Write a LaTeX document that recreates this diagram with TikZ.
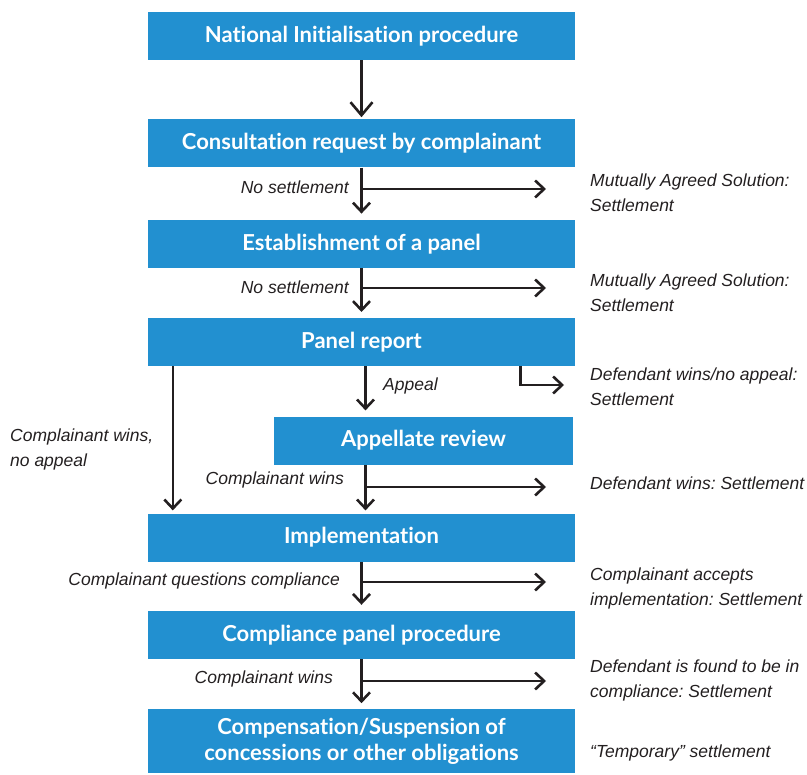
\documentclass[tikz,border=0pt]{standalone}
\usepackage{fontspec}
\setmainfont{Liberation Sans}
\newfontfamily\boxfont[Ligatures=NoCommon]{Lato}
\usetikzlibrary{positioning,arrows.meta}
\definecolor{flowblue}{HTML}{2290D0}
\definecolor{ink}{HTML}{231F20}
\frenchspacing

\begin{document}
\begin{tikzpicture}[
  x=1pt, y=-1pt,
  font=\fontsize{17.5}{25}\selectfont\itshape,
  box/.style={fill=flowblue, text=white, font=\boxfont\bfseries\fontsize{22}{26}\selectfont, align=center, minimum width=427pt, minimum height=48pt, inner sep=0pt},
  lbl/.style={text=ink, align=left, inner sep=0pt},
  arr/.style={-{Straight Barb[length=9pt,width=17pt]}, line width=2.6pt, draw=ink},
  bigarr/.style={arr, -{Straight Barb[length=13pt,width=22pt]}},
]
\useasboundingbox (0,0) rectangle (807,775);

% main column
\node[box] (init) at (361.5,36) {National Initialisation procedure};
\node[box, below=59pt of init] (cons) {Consultation request by complainant};
\node[box, below=52pt of cons] (est) {Establishment of a panel};
\node[box, below=50pt of est] (rep) {Panel report};
\node[box, below=50pt of rep, xshift=62pt, minimum width=299pt] (app) {Appellate review};
\node[box, below=147pt of rep] (impl) {Implementation};
\node[box, below=49pt of impl] (comp) {Compliance panel procedure};
\node[box, below=50pt of comp, minimum height=64pt] (susp) {Compensation/Suspension of\\concessions or other obligations};

% branch ends
\coordinate (e1) at (546,189);
\coordinate (e2) at (546,288);
\coordinate (e3) at (564,385);
\coordinate (e4) at (546,487);
\coordinate (e5) at (546,582);
\coordinate (e6) at (546,681);

\draw[bigarr, shorten >=2pt] (init) -- (cons);
\draw[arr, shorten >=6pt] (cons) -- (est);
\draw[arr] (cons.south |- e1) -- (e1);
\draw[arr, shorten >=6pt] (est) -- (rep);
\draw[arr] (est.south |- e2) -- (e2);
\draw[arr, shorten >=6pt] ([xshift=4pt]rep.south) -- ([xshift=4pt]rep.south |- app.north);
\draw[arr] ([xshift=-55pt]rep.south east) |- (e3);
\draw[arr, shorten >=3pt] ([xshift=25pt]rep.south west) -- ([xshift=25pt]impl.north west);
\draw[arr, shorten >=3pt] (app.south -| impl.south) ++(4pt,0) coordinate (a1) -- (a1 |- impl.north);
\draw[arr] ([xshift=4pt]impl.north |- e4) -- (e4);
\draw[arr, shorten >=6pt] (impl) -- (comp);
\draw[arr] (impl.south |- e5) -- (e5);
\draw[arr, shorten >=6pt] (comp) -- (susp);
\draw[arr] (comp.south |- e6) -- (e6);

% labels
\node[lbl, anchor=east] (ns1) at (349,187) {No settlement};
\node[lbl, anchor=east] (ns2) at (349,287) {No settlement};
\node[lbl, anchor=west] (ap) at (383,386) {Appeal};
\node[lbl, anchor=west] (cwna) at (10,449) {Complainant wins,\\no appeal};
\node[lbl, anchor=east] (cw1) at (344,480) {Complainant wins};
\node[lbl, anchor=east] (cq) at (340,581) {Complainant questions compliance};
\node[lbl, anchor=east] (cw2) at (333,679) {Complainant wins};

\node[lbl, anchor=west] (mas1) at (590,193) {Mutually Agreed Solution:\\Settlement};
\node[lbl, anchor=west] (mas2) at (590,293) {Mutually Agreed Solution:\\Settlement};
\node[lbl, anchor=west] (dwna) at (590,387) {Defendant wins/no appeal:\\Settlement};
\node[lbl, anchor=west] (dw) at (590,483) {Defendant wins: Settlement};
\node[lbl, anchor=west] (ca) at (590,588) {Complainant accepts\\implementation: Settlement};
\node[lbl, anchor=west] (dc) at (590,680) {Defendant is found to be in\\compliance: Settlement};
\node[lbl, anchor=west] (tmp) at (590,753) {“Temporary” settlement};
\end{tikzpicture}
\end{document}
